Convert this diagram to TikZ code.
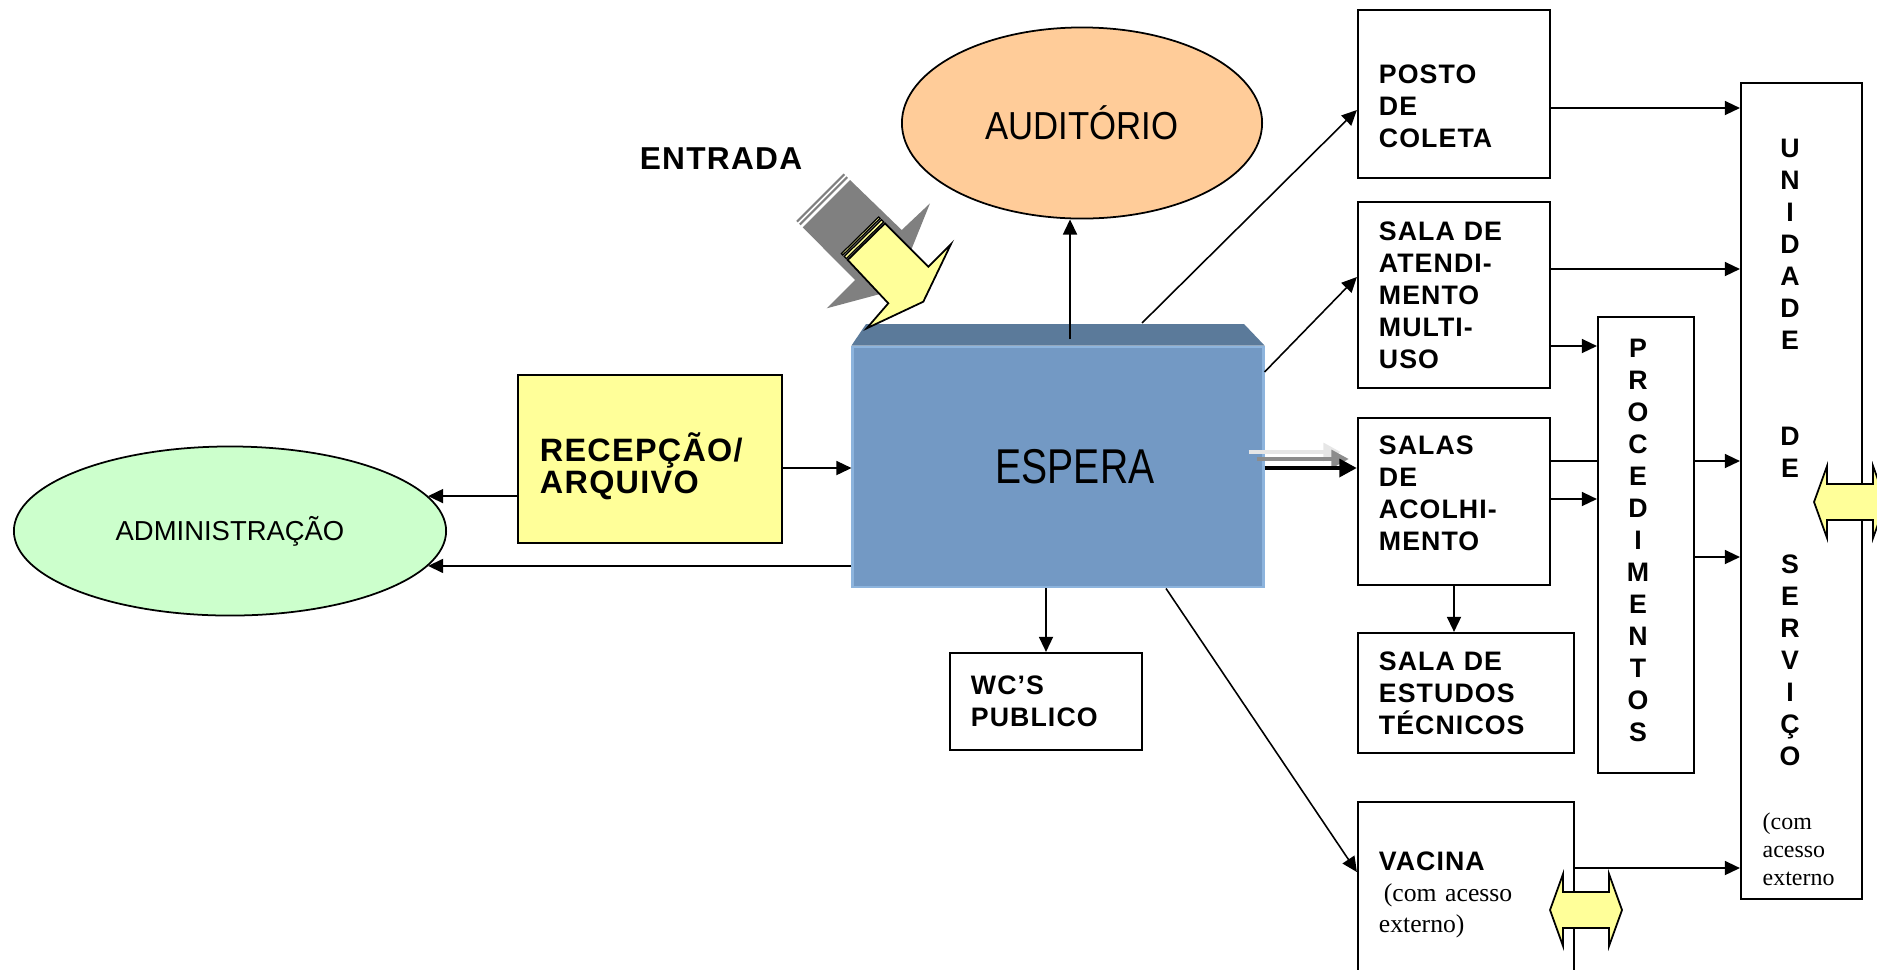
\documentclass[tikz,border=0pt]{standalone}
\usepackage{fontspec}
\setmainfont{Liberation Sans}
\newfontfamily\boxfont[LetterSpace=4]{Liberation Sans}
\newfontfamily\notefont{Liberation Serif}
\newfontfamily\esperafont[FakeStretch=0.8]{Liberation Sans}
\newfontfamily\audfont[FakeStretch=0.89]{Liberation Sans}
\usetikzlibrary{arrows.meta,shapes.geometric}
\definecolor{admgreen}{HTML}{CCFFCC}
\definecolor{audpeach}{HTML}{FFCC99}
\definecolor{recepyellow}{HTML}{FFFF99}
\definecolor{esperafront}{HTML}{7399C4}
\definecolor{esperaedge}{HTML}{8DB4DD}
\definecolor{esperatop}{HTML}{5B7A9A}
\definecolor{shadowgrey}{HTML}{808080}
\definecolor{midgrey}{HTML}{8C8C8C}
\definecolor{palegrey}{HTML}{E6E6E6}
\newcommand{\lblfont}{\boxfont\bfseries\fontsize{7.6}{9.1}\selectfont}

\begin{document}
\begin{tikzpicture}[x=0.01cm,y=-0.01cm,
  box/.style={draw,line width=0.6pt,inner xsep=0.21cm,inner ysep=0pt,align=left,font=\lblfont},
  oval/.style={draw,ellipse,line width=0.5pt,inner sep=0pt},
  arr/.style={line width=0.45pt,-{Triangle[length=4.3pt,width=4pt]}},
  fat/.style={line width=1.4pt,-{Triangle[length=5pt,width=5pt]}}]
	\useasboundingbox (0,0) rectangle (1877,969);

	\node[oval,fill=admgreen,minimum width=4.32cm,minimum height=1.69cm,font=\fontsize{7.8}{9}\selectfont] (admin) at (230,531) {ADMINISTRAÇÃO};
	\node[oval,fill=audpeach,minimum width=3.6cm,minimum height=1.91cm,font=\audfont\fontsize{11.1}{13}\selectfont] (aud) at (1082,123) {AUDITÓRIO};

	\node[fill=esperafront,draw=esperaedge,line width=0.8pt,minimum width=4.1cm,minimum height=2.4cm,inner sep=0pt,font=\esperafont\fontsize{13.9}{16}\selectfont] (espera) at (1058,467) {\hspace*{0.34cm}ESPERA};
	\fill[esperatop] (espera.north west) -- (866,324) -- (1244,324) -- (espera.north east) -- cycle;

	\node[box,fill=recepyellow,inner xsep=0.22cm,font=\boxfont\bfseries\fontsize{9.2}{9.1}\selectfont,text width=2.2cm,minimum height=1.68cm,text height=12.4pt] (recep) at (650,459) {RECEPÇÃO/\\ARQUIVO};
	\node[box,minimum height=0.97cm,text width=1.5cm] (wc) at (1046,701.5) {WC’S\\PUBLICO};
	\node[box,minimum height=1.68cm,text width=1.5cm,text height=12.4pt] (posto) at (1454,94) {POSTO\\DE\\COLETA};
	\node[box,minimum height=1.86cm,text width=1.5cm] (atend) at (1454,295) {SALA DE\\ATENDI-\\MENTO\\MULTI-\\USO};
	\node[box,minimum height=1.67cm,text width=1.5cm,text depth=32pt] (acolh) at (1454,501.5) {SALAS\\DE\\ACOLHI-\\MENTO};
	\node[box,minimum height=1.2cm,text width=1.74cm] (estudos) at (1466,693) {SALA DE\\ESTUDOS\\TÉCNICOS};
	\node[box,minimum height=1.86cm,text width=1.74cm,font=\notefont\fontsize{7.3}{8.8}\selectfont] (vacina) at (1466,895) {{\lblfont VACINA}\\\hspace*{1.4pt}(com acesso\\externo)};
	\node[box,minimum width=0.96cm,minimum height=4.56cm] (proc) at (1646,545) {};
	\node[box,minimum width=1.21cm,minimum height=8.16cm] (unid) at (1801.5,491) {};

	\node[font=\lblfont,align=center,inner sep=0pt,anchor=north] (proc-t) at (1638,338) {P\\R\\O\\C\\E\\D\\I\\M\\E\\N\\T\\O\\S};
	\node[font=\lblfont,align=center,inner sep=0pt,anchor=north] (unid-t) at (1790,138) {U\\N\\I\\D\\A\\D\\E\\~\\~\\D\\E\\~\\~\\S\\E\\R\\V\\I\\Ç\\O};
	\node[font=\notefont\fontsize{6.8}{8}\selectfont,align=left,inner sep=0pt,anchor=north west] (unid-n) at (1762,812) {(com\\acesso\\externo};

	%edges
	\coordinate (e-top) at (1070,339);
	\coordinate (e-pc) at (1142,323);
	\draw[arr] (e-top) -- (e-top |- aud.south);
	\draw[arr] (e-pc) -- (posto.west |- 0,110);
	\draw[arr] (espera.east |- 0,372) -- (atend.west |- 0,277);
	\draw[arr] (wc.north |- espera.south) -- (wc.north);
	\draw[arr] (espera.south -| 1166,0) -- (vacina.west |- 0,872);
	\draw[arr] (espera.west |- admin.-10.5) -- (admin.-10.5);
	\draw[arr] (recep.west |- admin.10.5) -- (admin.10.5);
	\draw[arr] (recep.east |- 0,468) -- (espera.west |- 0,468);

	\coordinate (ts) at (espera.east |- 0,468);
	\coordinate (te) at (acolh.west |- 0,468);
	\draw[fat,palegrey] ([xshift=-0.16cm,yshift=0.16cm]ts) -- ([xshift=-0.16cm,yshift=0.16cm]te);
	\draw[fat,midgrey] ([xshift=-0.08cm,yshift=0.09cm]ts) -- ([xshift=-0.08cm,yshift=0.09cm]te);
	\draw[fat] (ts) -- (te);

	\draw[arr] (posto.east |- 0,108) -- (unid.west |- 0,108);
	\draw[arr] (atend.east |- 0,269) -- (unid.west |- 0,269);
	\draw[arr] (atend.east |- 0,346) -- (proc.west |- 0,346);
	\draw[line width=0.45pt] (acolh.east |- 0,461) -- (proc.west |- 0,461);
	\draw[arr] (proc.east |- 0,461) -- (unid.west |- 0,461);
	\draw[arr] (acolh.east |- 0,499) -- (proc.west |- 0,499);
	\draw[arr] (proc.east |- 0,557) -- (unid.west |- 0,557);
	\draw[arr] (acolh.south) -- (acolh.south |- estudos.north);
	\draw[arr] (vacina.east |- 0,868) -- (unid.west |- 0,868);

	%two-way arrows
	\foreach \cx/\cy in {1586/910,1850/502}
	  \filldraw[fill=recepyellow,line width=0.5pt,shift={(\cx,\cy)}] (-36,0) -- (-23,-36) -- (-23,-18) -- (23,-18) -- (23,-36) -- (36,0) -- (23,36) -- (23,18) -- (-23,18) -- (-23,36) -- cycle;

	%entrada
	\fill[shadowgrey] (802.7,227.3) -- (850,180) -- (901.7,230) -- (930,203.3) -- (895,290) -- (826.7,308.3) -- (855,280) -- cycle;
	\draw[shadowgrey,line width=0.6pt] (799.9,224.5) -- (847.2,177.2);
	\draw[shadowgrey,line width=0.6pt] (797,221.6) -- (844.3,174.3);
	\filldraw[fill=recepyellow,line width=0.5pt] (847.7,260) -- (885,223.3) -- (928.3,266.7) -- (951,244) -- (923.3,301.7) -- (866.7,328.3) -- (888.3,303.3) -- cycle;
	\filldraw[fill=recepyellow,line width=0.35pt] (846.3,258.6) -- (883.6,221.9) -- (881.5,219.8) -- (844.2,256.5) -- cycle;
	\filldraw[fill=recepyellow,line width=0.35pt] (842.8,255.0) -- (880.1,218.3) -- (878.7,216.9) -- (841.4,253.6) -- cycle;
	\node[font=\boxfont\bfseries\fontsize{9}{10}\selectfont,anchor=base,inner sep=0pt] (entrada) at (721,169) {ENTRADA};
\end{tikzpicture}
\end{document}
